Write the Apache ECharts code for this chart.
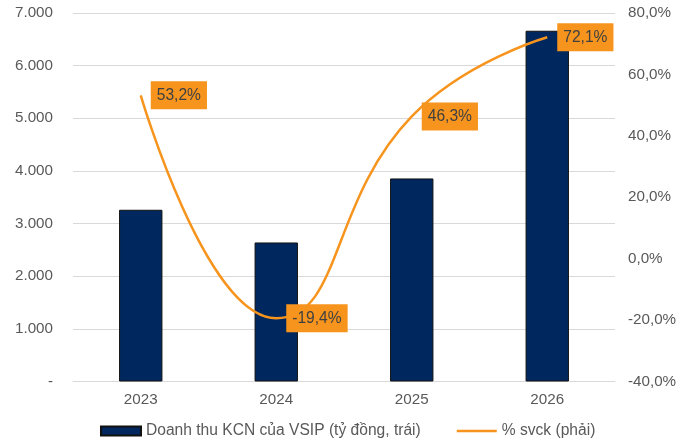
<!DOCTYPE html>
<html>
<head>
<meta charset="utf-8">
<script src="https://cdn.jsdelivr.net/npm/echarts@6/dist/echarts.min.js"></script>
<style>
  html, body { margin: 0; padding: 0; background: #ffffff; }
  #chart { width: 693px; height: 445px; }
</style>
</head>
<body>
<div id="chart"></div>
<script>
// Industrial-park revenue of VSIP (billion VND) and year-on-year growth
const years = ['2023', '2024', '2025', '2026'];
const revenue = [3262, 2641, 3857, 6663];
const growthPct = [53.2, -19.4, 46.3, 72.1];

const revenueName = 'Doanh thu KCN của VSIP (tỷ đồng, trái)';
const growthName = '% svck (phải)';

const FONT = '"Liberation Sans", Arial, sans-serif';
const FS = 15.2;
const GREY_TEXT = '#595959';
const GRID_GREY = '#D9D9D9';
const NAVY = '#00285E';
const ORANGE = '#F7941D';

function thousands(v) {
  if (v === 0) return '-';
  return String(v).replace(/\B(?=(\d{3})+(?!\d))/g, '.');
}
function pct(v) {
  return v.toFixed(1).replace('.', ',') + '%';
}

const chart = echarts.init(document.getElementById('chart'), null, { renderer: 'canvas' });

chart.setOption({
  animation: false,
  backgroundColor: '#ffffff',
  textStyle: { fontFamily: FONT },
  grid: { left: 73, right: 78, top: 13, height: 368.5 },
  legend: {
    top: 423,
    left: 100,
    padding: 0,
    itemWidth: 40,
    itemHeight: 9,
    itemGap: 36,
    textStyle: { fontFamily: FONT, fontSize: 15.6, color: GREY_TEXT },
    data: [
      { name: revenueName, icon: 'rect' },
      { name: growthName, icon: 'path://M0,0 M0,3.3 L40,3.3 L40,5.7 L0,5.7 Z M40,9' }
    ]
  },
  xAxis: {
    type: 'category',
    data: years,
    axisLine: { show: true, lineStyle: { color: GRID_GREY, width: 1 } },
    axisTick: { show: false },
    axisLabel: { color: GREY_TEXT, fontFamily: FONT, fontSize: FS, margin: 11 }
  },
  yAxis: [
    {
      type: 'value',
      min: 0,
      max: 7000,
      interval: 1000,
      axisLine: { show: false },
      axisTick: { show: false },
      splitLine: { lineStyle: { color: GRID_GREY, width: 1 } },
      axisLabel: { color: GREY_TEXT, fontFamily: FONT, fontSize: FS, margin: 20, formatter: thousands }
    },
    {
      type: 'value',
      min: -40,
      max: 80,
      interval: 20,
      axisLine: { show: false },
      axisTick: { show: false },
      splitLine: { show: false },
      axisLabel: { color: GREY_TEXT, fontFamily: FONT, fontSize: FS, margin: 13, formatter: pct }
    }
  ],
  series: [
    {
      name: revenueName,
      type: 'bar',
      yAxisIndex: 0,
      data: revenue,
      barWidth: '32%',
      itemStyle: { color: NAVY, borderColor: '#111111', borderWidth: 1 }
    },
    {
      name: growthName,
      type: 'line',
      yAxisIndex: 1,
      data: growthPct,
      smooth: 0.5,
      symbol: 'circle',
      symbolSize: 0,
      showSymbol: true,
      lineStyle: { color: ORANGE, width: 2.5 },
      itemStyle: { color: ORANGE },
      label: {
        show: true,
        position: 'right',
        distance: 10,
        formatter: p => pct(p.value),
        backgroundColor: ORANGE,
        color: '#404040',
        fontFamily: FONT,
        fontSize: 15.6,
        lineHeight: 18,
        padding: [5, 6]
      },
      z: 5
    }
  ]
});
</script>
</body>
</html>
